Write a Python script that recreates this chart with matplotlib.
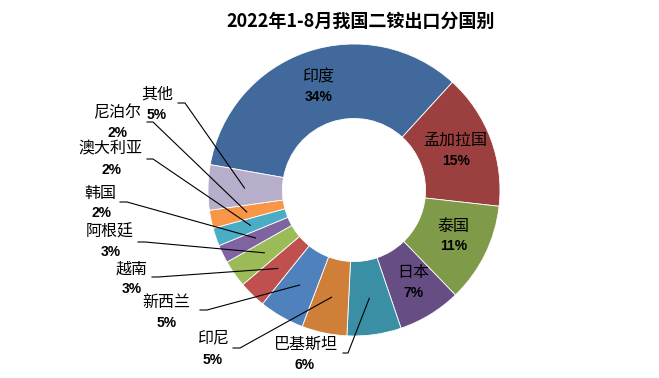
import numpy as np
import matplotlib
matplotlib.use("Agg")
import matplotlib.pyplot as plt

plt.rcParams['font.family'] = ['Noto Sans CJK SC', 'DejaVu Sans']

# data
countries = ['印度', '孟加拉国', '泰国', '日本', '巴基斯坦', '印尼', '新西兰',
             '越南', '阿根廷', '韩国', '澳大利亚', '尼泊尔', '其他']
shares = [34, 15, 11, 7, 6, 5, 5, 3, 3, 2, 2, 2, 5]
pct_labels = ['34%', '15%', '11%', '7%', '6%', '5%', '5%', '3%', '3%', '2%', '2%', '2%', '5%']
title = '2022年1-8月我国二铵出口分国别'

colors = ['#41699B', '#9B403E', '#7F9A48', '#664E84', '#3A8FA4', '#D07F39', '#4F81BD',
          '#C0504D', '#9BBB59', '#8064A2', '#4BACC6', '#F79646', '#B7AECB']

# label layout in pixels (name centre, percent centre, leader elbow or None)
name_pos = [(318, 77), (455, 140), (453, 226), (413, 273), (306, 344), (213, 338), (166, 303),
            (132, 269), (110, 232), (100, 193), (110, 149), (117, 113), (157, 94)]
pct_pos = [(319, 97), (456, 161), (454, 246), (413, 293), (305, 365), (213, 360), (167, 323),
           (132, 289), (111, 252), (101, 213), (111, 170), (118, 133), (157, 115)]
elbows = [None, None, None, None, (343, 353, 348), (233, 348, 240), (200, 310, 207),
          (152, 277, 158), (138, 242, 145), (120, 202, 127), (147, 159, 153), (147, 122, 153),
          (178, 103, 185)]

W, H = 659, 378
fig = plt.figure(figsize=(W / 100, H / 100), dpi=100)
ax = fig.add_axes([0, 0, 1, 1])


def px(x, y):
    return x, H - y


cx, cy = px(354, 190)
R = 146
wedges, _ = ax.pie(shares, colors=colors, startangle=170, counterclock=False,
                   center=(cx, cy), radius=R, frame=True,
                   wedgeprops=dict(width=R * 0.51, edgecolor='white', linewidth=0.6))
ax.set_xlim(0, W)
ax.set_ylim(0, H)
ax.set_aspect('equal')
ax.axis('off')

for i, w in enumerate(wedges):
    nx, ny = px(*name_pos[i])
    ax.text(nx, ny, countries[i], ha='center', va='center', fontsize=11.5,
            fontweight='medium', color='black')
    qx, qy = px(*pct_pos[i])
    ax.text(qx, qy, pct_labels[i], ha='center', va='center', fontsize=10,
            fontweight='bold', family=['Liberation Sans', 'DejaVu Sans'], color='black')
    if elbows[i] is not None:
        x0, y0, x1 = elbows[i]
        mid = np.deg2rad((w.theta1 + w.theta2) / 2)
        ax_, ay_ = cx + 0.75 * R * np.cos(mid), cy + 0.75 * R * np.sin(mid)
        p0 = px(x0, y0)
        p1 = px(x1, y0)
        ax.plot([p0[0], p1[0], ax_], [p0[1], p1[1], ay_], color='black', lw=0.8)

tx, ty = px(361, 21)
ax.text(tx, ty, title, ha='center', va='center', fontsize=13, fontweight='bold')

fig.savefig('out.png', dpi=100)
